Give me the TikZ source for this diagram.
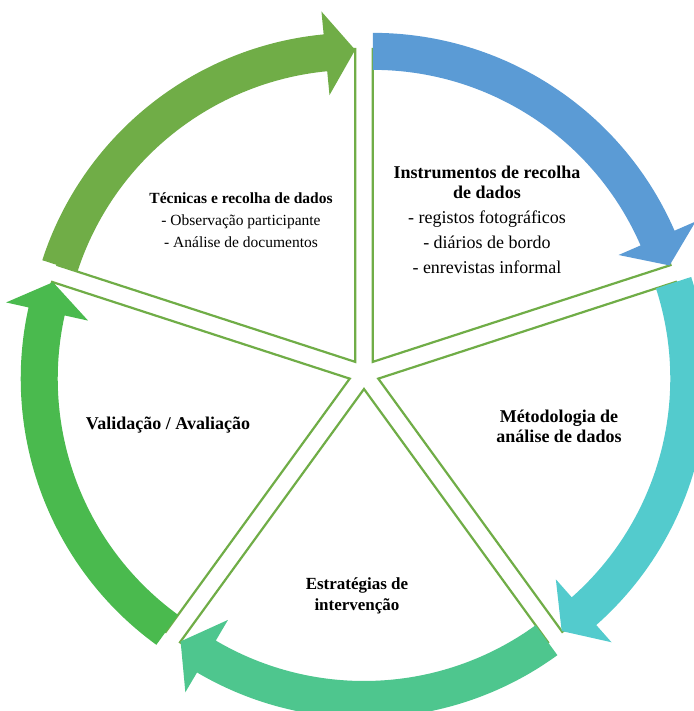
\documentclass[tikz,border=0pt]{standalone}
\usepackage{fontspec}
\setmainfont{Liberation Serif}
\usepackage{tikz}

\definecolor{tecnicasgreen}{RGB}{112,173,71}
\definecolor{instrblue}{RGB}{91,155,213}
\definecolor{metodteal}{RGB}{83,203,205}
\definecolor{estratgreen}{RGB}{78,198,142}
\definecolor{validgreen}{RGB}{74,186,78}

\tikzset{
  segline/.style={draw=tecnicasgreen, line width=2.2pt, fill=white, line join=miter},
  segtext/.style={align=center, inner sep=0pt, text=black}
}

% one segment: wedge + curved arrow, #1 = bisector angle, #2 = arrow colour
\newcommand{\CycleSegment}[2]{%
  \pgfmathsetmacro{\segS}{#1+36}%
  \pgfmathsetmacro{\segE}{#1-36}%
  \pgfmathsetmacro{\segH}{#1-36+5.5}%
  \begin{scope}[shift={(#1:15pt)}]
    \draw[segline] (0,0) -- (\segS:313pt)
      arc[start angle=\segS, end angle=\segE, radius=313pt] -- cycle;
    \fill[#2] (\segS:329pt) arc[start angle=\segS, end angle=\segH, radius=329pt]
      -- (\segH:352pt) -- (\segE:312pt) -- (\segH:268pt) -- (\segH:292pt)
      arc[start angle=\segH, end angle=\segS, radius=292pt] -- cycle;
  \end{scope}}

\begin{document}
\begin{tikzpicture}[x=1pt,y=1pt]
    \useasboundingbox (-364,-337) rectangle (329,374);

    \CycleSegment{54}{instrblue}
    \CycleSegment{126}{tecnicasgreen}
    \CycleSegment{198}{validgreen}
    \CycleSegment{270}{estratgreen}
    \CycleSegment{342}{metodteal}

    \node[segtext, font=\fontsize{15.5}{22}\selectfont] (tecnicas) at (-123,154)
      {\textbf{Técnicas e recolha de dados}\\- Observação participante\\- Análise de documentos};
    \node[segtext, font=\fontsize{18}{20}\selectfont] (instrumentos) at (123,154)
      {\textbf{Instrumentos de recolha}\\\textbf{de dados}\\[5pt]- registos fotográficos\\[5pt]- diários de bordo\\[5pt]- enrevistas informal};
    \node[segtext, font=\bfseries\fontsize{18}{20}\selectfont] (metodologia) at (195,-52)
      {Métodologia de\\análise de dados};
    \node[segtext, font=\bfseries\fontsize{18}{20}\selectfont] (validacao) at (-196,-51)
      {Validação / Avaliação};
    \node[segtext, font=\bfseries\fontsize{17}{21}\selectfont] (estrategias) at (-7,-222)
      {Estratégias de\\intervenção};
\end{tikzpicture}
\end{document}
